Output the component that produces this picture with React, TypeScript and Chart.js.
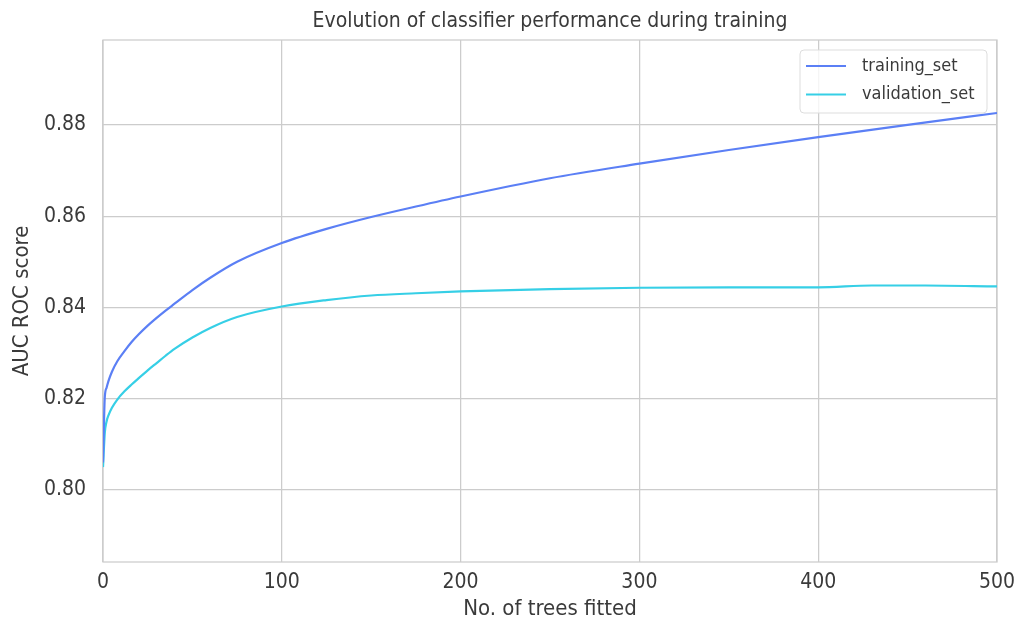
import React, { useEffect, useRef } from 'react';
import { Chart, registerables } from 'chart.js';

Chart.register(...registerables);

// ---- data ----
const trainTrees = [0, 1, 2, 3, 5, 8, 12, 16, 20, 25, 30, 35, 40, 50, 60, 75, 100, 125, 150, 175, 200, 250, 300, 350, 400, 450, 500];
const trainScores = [0.806, 0.8203, 0.8224, 0.8238, 0.8259, 0.8282, 0.8304, 0.8324, 0.8341, 0.836, 0.8377, 0.8393, 0.8408, 0.8438, 0.8465, 0.85, 0.8541, 0.8572, 0.8598, 0.8621, 0.8643, 0.8683, 0.8715, 0.8745, 0.8773, 0.88, 0.8826];

const valTrees = [0, 1, 2, 3, 5, 8, 12, 16, 20, 25, 30, 35, 40, 50, 60, 75, 100, 125, 150, 175, 200, 250, 300, 350, 400, 430, 460, 500];
const valScores = [0.805, 0.8125, 0.815, 0.8163, 0.818, 0.8198, 0.8216, 0.8231, 0.8245, 0.8262, 0.8278, 0.8294, 0.8309, 0.8334, 0.8355, 0.8379, 0.8402, 0.8416, 0.8426, 0.8431, 0.8435, 0.844, 0.8443, 0.8444, 0.8444, 0.8448, 0.8448, 0.8446];

const seriesLabels = ['training_set', 'validation_set'];
const seriesColors = ['#5b7ff5', '#36cfe6'];
const xTicks = [0, 100, 200, 300, 400, 500];
const yTicks = [0.8, 0.82, 0.84, 0.86, 0.88];
const chartTitle = 'Evolution of classifier performance during training';
const xTitle = 'No. of trees fitted';
const yTitle = 'AUC ROC score';

const FAMILY = '"Liberation Sans Narrow", "DejaVu Sans Condensed", "Liberation Sans", sans-serif';
const TEXT = '#3a3a3a';
const GRID = '#cccccc';

export default function App() {
  const ref = useRef<HTMLCanvasElement>(null);

  useEffect(() => {
    document.body.style.margin = '0';
    const canvas = ref.current;
    if (!canvas) return;

    const framePlugin = {
      id: 'frame',
      beforeDatasetsDraw(chart: any) {
        const { ctx, chartArea: a } = chart;
        ctx.save();
        ctx.strokeStyle = GRID;
        ctx.lineWidth = 1.25;
        ctx.strokeRect(a.left, a.top, a.right - a.left, a.bottom - a.top);
        ctx.restore();
      },
    };

    const titlePlugin = {
      id: 'topTitle',
      afterDraw(chart: any) {
        const { ctx, chartArea: a } = chart;
        ctx.save();
        ctx.font = `21px ${FAMILY}`;
        ctx.fillStyle = TEXT;
        ctx.textAlign = 'center';
        ctx.textBaseline = 'middle';
        ctx.fillText(chartTitle, (a.left + a.right) / 2, 22);
        ctx.restore();
      },
    };

    const legendPlugin = {
      id: 'boxLegend',
      afterDatasetsDraw(chart: any) {
        const { ctx, chartArea: a } = chart;
        const w = 187;
        const h = 63;
        const x = a.right - 10 - w;
        const y = a.top + 10;
        ctx.save();
        ctx.beginPath();
        ctx.roundRect(x, y, w, h, 4);
        ctx.fillStyle = 'rgba(255,255,255,0.8)';
        ctx.fill();
        ctx.strokeStyle = '#dddddd';
        ctx.lineWidth = 1;
        ctx.stroke();
        ctx.font = `18px ${FAMILY}`;
        ctx.textBaseline = 'middle';
        ctx.textAlign = 'left';
        seriesLabels.forEach((lab, i) => {
          const cy = y + 16 + i * 28.5;
          ctx.strokeStyle = seriesColors[i];
          ctx.lineWidth = 2.2;
          ctx.beginPath();
          ctx.moveTo(x + 6, cy);
          ctx.lineTo(x + 46, cy);
          ctx.stroke();
          ctx.fillStyle = TEXT;
          ctx.fillText(lab, x + 62, cy);
        });
        ctx.restore();
      },
    };

    const chart = new Chart(canvas, {
      type: 'line',
      data: {
        datasets: [
          {
            label: seriesLabels[0],
            data: trainTrees.map((t, i) => ({ x: t, y: trainScores[i] })),
            borderColor: seriesColors[0],
            borderWidth: 2.2,
            pointRadius: 0,
            cubicInterpolationMode: 'monotone',
            fill: false,
          },
          {
            label: seriesLabels[1],
            data: valTrees.map((t, i) => ({ x: t, y: valScores[i] })),
            borderColor: seriesColors[1],
            borderWidth: 2.2,
            pointRadius: 0,
            cubicInterpolationMode: 'monotone',
            fill: false,
          },
        ],
      },
      options: {
        animation: false,
        responsive: false,
        events: [],
        layout: { padding: { top: 40, right: 20, left: 0, bottom: 0 } },
        plugins: {
          legend: { display: false },
          title: { display: false },
          tooltip: { enabled: false },
        },
        scales: {
          x: {
            type: 'linear',
            min: 0,
            max: 500,
            afterBuildTicks: (s: any) => {
              s.ticks = xTicks.map((v) => ({ value: v }));
            },
            afterFit: (s: any) => {
              s.height = 62;
              s.paddingLeft = 0;
              s.paddingRight = 0;
            },
            grid: { color: GRID, lineWidth: 1.25, drawTicks: false },
            border: { display: false },
            ticks: {
              color: TEXT,
              padding: 8,
              maxRotation: 0,
              font: { family: FAMILY, size: 21 },
              callback: (v: any) => String(v),
            },
            title: {
              display: true,
              text: xTitle,
              color: TEXT,
              font: { family: FAMILY, size: 22 },
              padding: { top: 0, bottom: 2 },
            },
          },
          y: {
            type: 'linear',
            min: 0.7842,
            max: 0.8986,
            afterBuildTicks: (s: any) => {
              s.ticks = yTicks.map((v) => ({ value: v }));
            },
            afterFit: (s: any) => {
              s.width = 103;
              s.paddingTop = 0;
              s.paddingBottom = 0;
            },
            grid: { color: GRID, lineWidth: 1.25, drawTicks: false },
            border: { display: false },
            ticks: {
              color: TEXT,
              padding: 17,
              font: { family: FAMILY, size: 21 },
              callback: (v: any) => Number(v).toFixed(2),
            },
            title: {
              display: true,
              text: yTitle,
              color: TEXT,
              font: { family: FAMILY, size: 22 },
              padding: { top: 9, bottom: 0 },
            },
          },
        },
      },
      plugins: [framePlugin, titlePlugin, legendPlugin],
    } as any);

    return () => chart.destroy();
  }, []);

  return (
    <div style={{ width: 1017, height: 624 }}>
      <canvas ref={ref} width={1017} height={624} />
    </div>
  );
}
